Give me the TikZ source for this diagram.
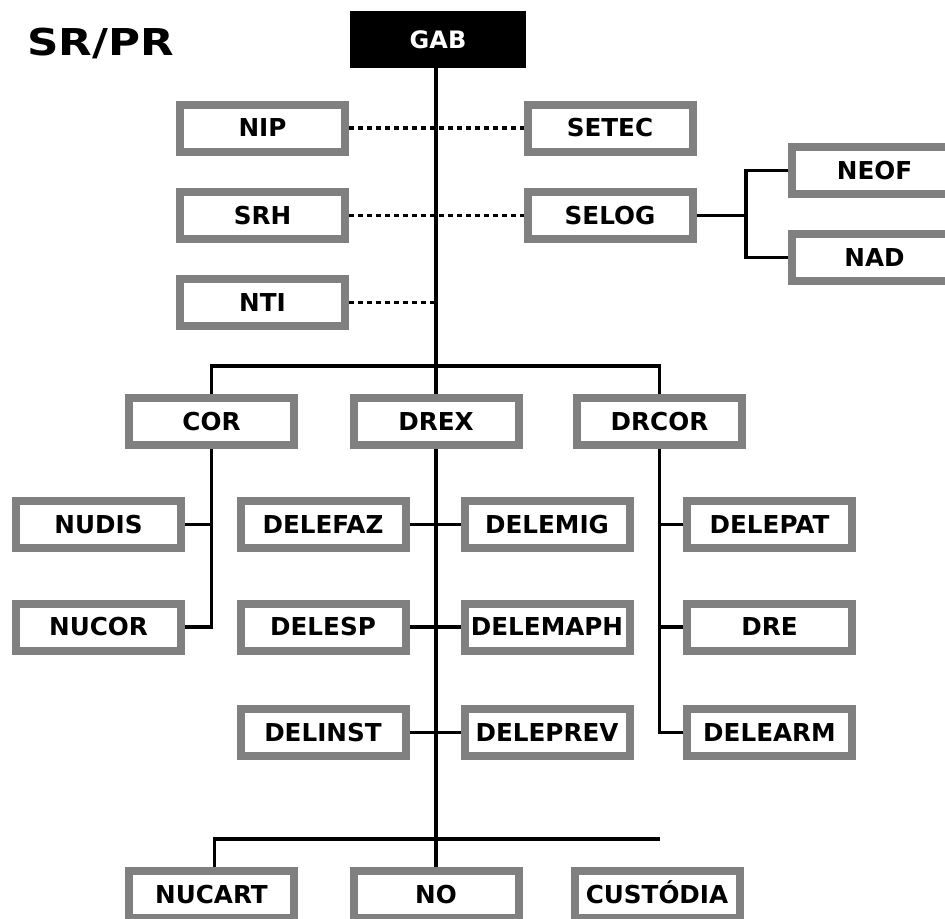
\documentclass[tikz,border=0pt]{standalone}
\usepackage{fontspec}
\setmainfont{DejaVu Sans}
\newfontfamily\titlefont[FakeStretch=1.18]{DejaVu Sans}
\definecolor{boxgray}{RGB}{128,128,128}
\begin{document}
\begin{tikzpicture}[x=0.75pt,y=-0.75pt,
  box/.style={draw=boxgray, line width=6pt, fill=white, minimum width=123.75pt,
    minimum height=35.25pt, inner sep=0pt, text height=13.2pt, text depth=0pt,
    font=\fontsize{18.5}{18.5}\selectfont\bfseries},
  topbox/.style={fill=black, text=white, minimum width=132pt, minimum height=42.75pt,
    inner sep=0pt, font=\fontsize{18}{18}\selectfont\bfseries},
  ln/.style={line width=2.4pt},
  dl/.style={line width=2.4pt, dash pattern=on 3.75pt off 3pt}]
\useasboundingbox (0,0) rectangle (945,918);
\clip (0,0) rectangle (945,918);
\fill[white] (0,0) rectangle (945,918);

\node[anchor=west, inner sep=0pt, font=\titlefont\fontsize{27.75}{28}\selectfont\bfseries] (title) at (27,43.5) {SR/PR};

\node[topbox] (GAB) at (438,39.5) {GAB};

\node[box] (NIP) at (262.5,128) {NIP};
\node[box] (SETEC) at (610,128) {SETEC};
\node[box] (SRH) at (262.5,215.5) {SRH};
\node[box] (SELOG) at (610,215.5) {SELOG};
\node[box] (NTI) at (262.5,302.5) {NTI};
\node[box] (NEOF) at (874.5,170.5) {NEOF};
\node[box] (NAD) at (874.5,257.5) {NAD};

\node[box] (COR) at (211.5,421.5) {COR};
\node[box] (DREX) at (436,421.5) {DREX};
\node[box] (DRCOR) at (659.5,421.5) {DRCOR};

\node[box] (NUDIS) at (98.5,524.5) {NUDIS};
\node[box] (NUCOR) at (98.5,627) {NUCOR};

\node[box] (DELEFAZ) at (323,524.5) {DELEFAZ};
\node[box] (DELESP) at (323,627) {DELESP};
\node[box] (DELINST) at (323,732.5) {DELINST};
\node[box] (DELEMIG) at (547,524.5) {DELEMIG};
\node[box] (DELEMAPH) at (547,627) {DELEMAPH};
\node[box] (DELEPREV) at (547,732.5) {DELEPREV};

\node[box] (DELEPAT) at (769.5,524.5) {DELEPAT};
\node[box] (DRE) at (769.5,627) {DRE};
\node[box] (DELEARM) at (769.5,732.5) {DELEARM};

\node[box] (NUCART) at (211.5,894.5) {NUCART};
\node[box] (NO) at (436,894.5) {NO};
\node[box] (CUST) at (657,894.5) {CUSTÓDIA};

% coordinates
\coordinate (ntiend) at (436,302.5);
\coordinate (sj) at (746,215.5);
\coordinate (bend) at (660,839);

% main trunk
\draw[ln] (DREX.north |- GAB.south) -- (DREX.north);
\draw[ln] (DREX.south) -- (NO.north);

% staff (dotted)
\draw[dl] (NIP.east) -- (SETEC.west);
\draw[dl] (SRH.east) -- (SELOG.west);
\draw[dl] (NTI.east) -- (ntiend);

% SELOG branch
\draw[ln] (SELOG.east) -- (sj);
\draw[ln] (NEOF.west) -| (sj) |- (NAD.west);

% top bus
\draw[ln] (COR.north) -- ++(0,-28) -| (DRCOR.north);

% COR branch
\draw[ln] (COR.south) |- (NUCOR.east);
\draw[ln] (NUDIS.east) -- (NUDIS.east -| COR.south);

% DREX branch
\draw[ln] (DELEFAZ.east) -- (DELEMIG.west);
\draw[ln] (DELESP.east) -- (DELEMAPH.west);
\draw[ln] (DELINST.east) -- (DELEPREV.west);

% DRCOR branch
\draw[ln] (DRCOR.south) |- (DELEARM.west);
\draw[ln] (DELEPAT.west) -- (DELEPAT.west -| DRCOR.south);
\draw[ln] (DRE.west) -- (DRE.west -| DRCOR.south);

% bottom bus
\draw[ln] ([xshift=2.25pt]NUCART.north) |- (bend);
\end{tikzpicture}
\end{document}
